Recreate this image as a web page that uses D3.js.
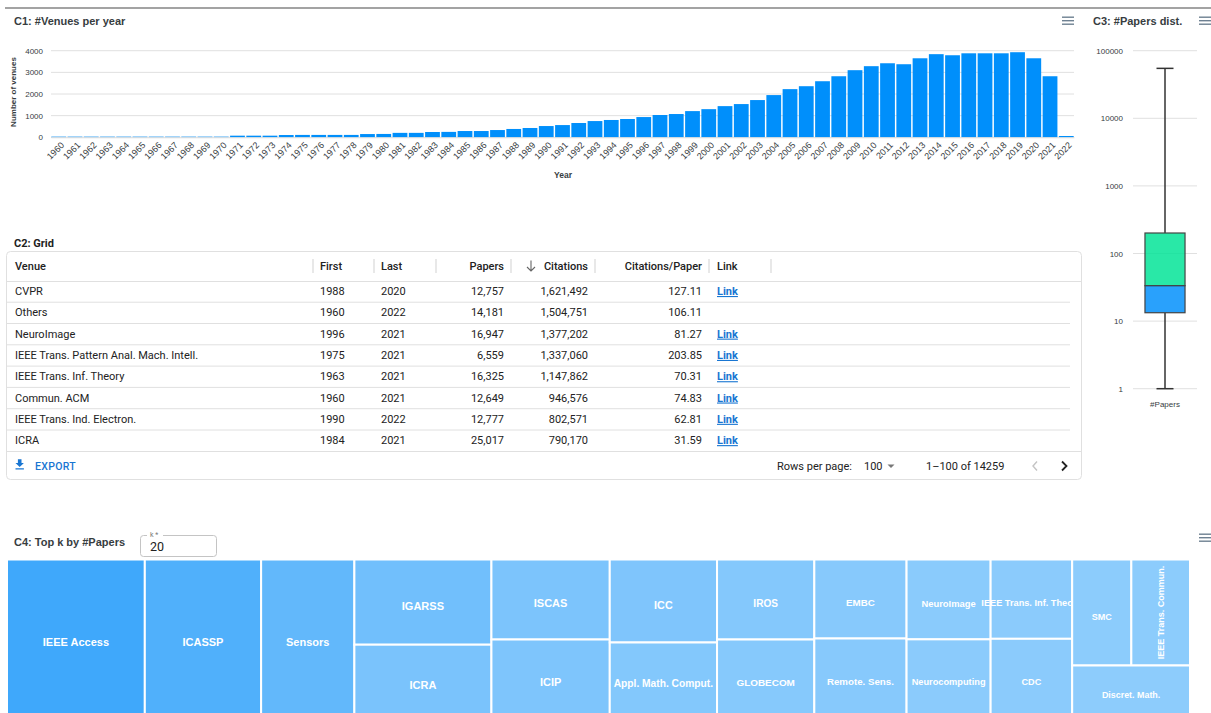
<!DOCTYPE html>
<html><head><meta charset="utf-8">
<script src="https://cdn.jsdelivr.net/npm/d3@7"></script>
<style>
html,body{margin:0;padding:0;background:#fff;overflow:hidden;}
svg{display:block;}
</style></head><body>
<svg id="c" width="1211" height="713"></svg>
<script>
// ---------- DATA ----------
const years = [1960,1961,1962,1963,1964,1965,1966,1967,1968,1969,1970,1971,1972,1973,1974,1975,1976,1977,1978,1979,1980,1981,1982,1983,1984,1985,1986,1987,1988,1989,1990,1991,1992,1993,1994,1995,1996,1997,1998,1999,2000,2001,2002,2003,2004,2005,2006,2007,2008,2009,2010,2011,2012,2013,2014,2015,2016,2017,2018,2019,2020,2021,2022];
const venuesPerYear = [30,30,30,30,30,30,30,30,30,30,30,75,75,75,105,110,110,110,110,150,155,205,205,245,250,290,290,335,385,430,520,565,660,750,800,845,935,1030,1075,1210,1300,1440,1535,1720,1950,2225,2360,2590,2820,3100,3285,3420,3375,3650,3840,3790,3880,3880,3880,3930,3650,2820,60];
const venueTicks = [0,1000,2000,3000,4000];

const boxLabel = "#Papers";
const boxMin = 1, boxQ1 = 13.3, boxMedian = 33.4, boxQ3 = 201, boxMax = 54800;
const logTicks = [1,10,100,1000,10000,100000];

const gridColumns = ["Venue","First","Last","Papers","Citations","Citations/Paper","Link"];
const gridVenues = ["CVPR","Others","NeuroImage","IEEE Trans. Pattern Anal. Mach. Intell.","IEEE Trans. Inf. Theory","Commun. ACM","IEEE Trans. Ind. Electron.","ICRA"];
const gridFirst = [1988,1960,1996,1975,1963,1960,1990,1984];
const gridLast = [2020,2022,2021,2021,2021,2021,2022,2021];
const gridPapers = [12757,14181,16947,6559,16325,12649,12777,25017];
const gridCitations = [1621492,1504751,1377202,1337060,1147862,946576,802571,790170];
const gridCpp = [127.11,106.11,81.27,203.85,70.31,74.83,62.81,31.59];
const gridHasLink = [true,false,true,true,true,true,true,true];
const totalRows = 14259, rowsPerPage = 100;

const topK = 20;
const topVenues = ["IEEE Access","ICASSP","Sensors","IGARSS","ICRA","ISCAS","ICIP","ICC","Appl. Math. Comput.","IROS","GLOBECOM","EMBC","Remote. Sens.","NeuroImage","Neurocomputing","IEEE Trans. Inf. Theory","CDC","SMC","IEEE Trans. Commun.","Discret. Math."];
const topPapers = [54800,46250,37080,29480,25017,23900,23150,22480,20180,19650,19030,18400,18280,16947,16480,16325,16100,15830,15700,15320];

// ---------- SETUP ----------
const svg = d3.select('#c');
const FONT = 'Liberation Sans, Arial, Helvetica, sans-serif';
const ROBOTO = 'Roboto, Arial, sans-serif';
const TXT = '#373d3f';
const BLUE = '#008FFB';

svg.append('rect').attr('x',5).attr('y',7).attr('width',1206).attr('height',2).attr('fill','#a3a3a3');

function title(x,y,t){
  svg.append('text').attr('x',x).attr('y',y).attr('font-family',FONT)
    .attr('font-weight','bold').attr('font-size',11).attr('fill',TXT).text(t);
}
function hamburger(x,y){
  for(let i=0;i<3;i++) svg.append('rect').attr('x',x).attr('y',y+i*3.5).attr('width',12).attr('height',1.4).attr('fill','#6e8192');
}
title(14,25,'C1: #Venues per year');
title(1093,25,'C3: #Papers dist.');
hamburger(1062,16.5); hamburger(1199,16.5); hamburger(1199,533.5);

// ---------- C1 BAR ----------
const xb = d3.scaleBand().domain(years).range([51,1074]).paddingInner(0.09).paddingOuter(0.02);
const yb = d3.scaleLinear().domain([0,4000]).range([137.3,50.7]);
const c1 = svg.append('g');
c1.selectAll('line.g').data(venueTicks).join('line')
  .attr('x1',51).attr('x2',1074).attr('y1',d=>yb(d)).attr('y2',d=>yb(d))
  .attr('stroke','#e0e0e0').attr('stroke-width',1);
const ya = c1.append('g').attr('transform','translate(51,0)')
  .call(d3.axisLeft(yb).tickValues(venueTicks).tickSize(0).tickPadding(8).tickFormat(d3.format('d')));
ya.select('.domain').remove();
ya.selectAll('text').attr('font-family',FONT).attr('font-size',8).attr('fill',TXT);
c1.selectAll('rect.bar').data(years).join('rect')
  .attr('x',d=>xb(d)).attr('width',xb.bandwidth())
  .attr('y',(d,i)=>yb(venuesPerYear[i])).attr('height',(d,i)=>yb(0)-yb(venuesPerYear[i]))
  .attr('fill',BLUE);
const xa = c1.append('g').attr('transform','translate(0,137.3)').call(d3.axisBottom(xb).tickSize(0));
xa.select('.domain').attr('stroke','#e0e0e0');
xa.selectAll('text').attr('font-family',FONT).attr('font-size',9).attr('fill',TXT)
  .attr('x',0).attr('y',0).attr('dy',0).attr('text-anchor','end')
  .attr('transform','translate(6,8.5) rotate(-45)');
c1.append('text').attr('x',563).attr('y',178).attr('text-anchor','middle')
  .attr('font-family',FONT).attr('font-weight','bold').attr('font-size',8.5).attr('fill',TXT).text('Year');
c1.append('text').attr('transform','translate(16,92) rotate(-90)').attr('text-anchor','middle')
  .attr('font-family',FONT).attr('font-weight','bold').attr('font-size',8).attr('fill',TXT).text('Number of venues');

// ---------- C3 BOX ----------
const yl = d3.scaleLog().domain([1,100000]).range([388.7,50.7]);
const c3 = svg.append('g');
c3.selectAll('line.g').data(logTicks).join('line')
  .attr('x1',1133).attr('x2',1197).attr('y1',d=>yl(d)).attr('y2',d=>yl(d)).attr('stroke','#e0e0e0');
const la = c3.append('g').attr('transform','translate(1131,0)')
  .call(d3.axisLeft(yl).tickValues(logTicks).tickSize(0).tickPadding(8).tickFormat(d3.format('d')));
la.select('.domain').remove();
la.selectAll('text').attr('font-family',FONT).attr('font-size',8).attr('fill',TXT);
const bx = d3.scaleBand().domain([boxLabel]).range([1133,1197]).padding(0.23);
const cx = bx(boxLabel)+bx.bandwidth()/2;
c3.append('line').attr('x1',cx).attr('x2',cx).attr('y1',yl(boxMax)).attr('y2',yl(boxQ3)).attr('stroke','#333').attr('stroke-width',1.5);
c3.append('line').attr('x1',cx).attr('x2',cx).attr('y1',yl(boxQ1)).attr('y2',yl(boxMin)).attr('stroke','#333').attr('stroke-width',1.5);
[boxMax,boxMin].forEach(v=>c3.append('line').attr('x1',cx-8.5).attr('x2',cx+8.5).attr('y1',yl(v)).attr('y2',yl(v)).attr('stroke','#333').attr('stroke-width',1.5));
c3.append('rect').attr('x',bx(boxLabel)).attr('width',bx.bandwidth()).attr('y',yl(boxQ3)).attr('height',yl(boxMedian)-yl(boxQ3))
  .attr('fill','#00E396').attr('fill-opacity',0.84).attr('stroke','#444').attr('stroke-width',1.2);
c3.append('rect').attr('x',bx(boxLabel)).attr('width',bx.bandwidth()).attr('y',yl(boxMedian)).attr('height',yl(boxQ1)-yl(boxMedian))
  .attr('fill',BLUE).attr('fill-opacity',0.84).attr('stroke','#444').attr('stroke-width',1.2);
c3.append('text').attr('x',cx).attr('y',407).attr('text-anchor','middle').attr('font-family',FONT).attr('font-size',8).attr('fill',TXT).text(boxLabel);

// ---------- C2 GRID ----------
const c2 = svg.append('g').attr('font-family',ROBOTO);
c2.append('text').attr('x',14).attr('y',247).attr('font-weight',700).attr('font-size',11).attr('fill','#222').text('C2: Grid');
c2.append('rect').attr('x',6.5).attr('y',251.5).attr('width',1075).attr('height',228).attr('rx',4)
  .attr('fill','none').attr('stroke','#e0e0e0');
c2.append('line').attr('x1',7).attr('x2',1081).attr('y1',281.5).attr('y2',281.5).attr('stroke','#e0e0e0');
const colX = [15,320,381,504,588,702,717];
const colAnchor = ['start','start','start','end','end','end','start'];
const sepX = [313,374,436,511,595,709,771];
gridColumns.forEach((c,i)=>{
  c2.append('text').attr('x',colX[i]).attr('y',270).attr('text-anchor',colAnchor[i])
    .attr('font-size',11).attr('font-weight',500).attr('fill','#222').text(c);
});
sepX.forEach(x=>c2.append('line').attr('x1',x).attr('x2',x).attr('y1',259).attr('y2',273).attr('stroke','#e0e0e0').attr('stroke-width',1.5));
c2.append('path').attr('d','M531,260.5 L531,271 M527,267 L531,271 L535,267').attr('fill','none').attr('stroke','#666').attr('stroke-width',1.1);
const rowH = 21.3, row0 = 291;
const fmt = d3.format(',');
gridVenues.forEach((v,i)=>{
  const yc = row0 + i*rowH + 4;
  const vals = [v, gridFirst[i], gridLast[i], fmt(gridPapers[i]), fmt(gridCitations[i]), gridCpp[i].toFixed(2)];
  vals.forEach((t,j)=>c2.append('text').attr('x',colX[j]).attr('y',yc).attr('text-anchor',colAnchor[j])
    .attr('font-size',11).attr('fill','#222').text(t));
  if (gridHasLink[i]) c2.append('text').attr('x',colX[6]).attr('y',yc).attr('font-size',11)
    .attr('font-weight',700).attr('fill','#1976d2').attr('text-decoration','underline').text('Link');
  if (i < gridVenues.length-1) c2.append('line').attr('x1',7).attr('x2',1070)
    .attr('y1',row0+i*rowH+11.2).attr('y2',row0+i*rowH+11.2).attr('stroke','#e0e0e0');
});
c2.append('line').attr('x1',7).attr('x2',1081).attr('y1',451.5).attr('y2',451.5).attr('stroke','#e0e0e0');
c2.append('path').attr('transform','translate(12.5,457.5) scale(0.6)').attr('d','M19 9h-4V3H9v6H5l7 7 7-7zM5 18v2h14v-2H5z').attr('fill','#1976d2');
c2.append('text').attr('x',35).attr('y',470).attr('font-size',10.5).attr('font-weight',500).attr('letter-spacing',0.3).attr('fill','#1976d2').text('EXPORT');
c2.append('text').attr('x',777).attr('y',470).attr('font-size',11).attr('fill','#222').text('Rows per page:');
c2.append('text').attr('x',864).attr('y',470).attr('font-size',11).attr('fill','#222').text(rowsPerPage);
c2.append('path').attr('d','M887.5,464.5 L894.5,464.5 L891,468 Z').attr('fill','#777');
c2.append('text').attr('x',926).attr('y',470).attr('font-size',11).attr('fill','#222').text(`1–${rowsPerPage} of ${totalRows}`);
c2.append('path').attr('d','M1037,461.5 L1033,466 L1037,470.5').attr('fill','none').attr('stroke','#c4c4c4').attr('stroke-width',1.4);
c2.append('path').attr('d','M1062,461.5 L1066.5,466 L1062,470.5').attr('fill','none').attr('stroke','#222').attr('stroke-width',1.8);

// ---------- C4 TREEMAP ----------
title(14,546,'C4: Top k by #Papers');
svg.append('rect').attr('x',140.5).attr('y',535.5).attr('width',76).attr('height',21).attr('rx',3).attr('fill','none').attr('stroke','#c4c4c4');
svg.append('rect').attr('x',147).attr('y',532).attr('width',16).attr('height',6).attr('fill','#fff');
svg.append('text').attr('x',150).attr('y',537).attr('font-family',ROBOTO).attr('font-size',7).attr('fill','#777').text('k *');
svg.append('text').attr('x',150).attr('y',551).attr('font-family',ROBOTO).attr('font-size',12.5).attr('fill','#222').text(topK);

const root = d3.hierarchy({children: topVenues.map((n,i)=>({name:n, value:topPapers[i]}))})
  .sum(d=>d.value||0).sort((a,b)=>b.value-a.value);
d3.treemap().size([1183,157.5]).tile(d3.treemapSquarify.ratio(1)).round(false)(root);
const shade = d3.scaleLinear().domain([d3.min(topPapers), d3.max(topPapers)]).range(['#8dccfc','#3fa8fb']);
const avgLen = d3.mean(topVenues, d=>d.length);
const tm = svg.append('g').attr('transform','translate(7,559.5)');
root.leaves().forEach((l,i)=>{
  const w = l.x1-l.x0, h = l.y1-l.y0;
  tm.append('rect').attr('x',l.x0).attr('y',l.y0).attr('width',w).attr('height',h)
    .attr('fill',shade(l.value)).attr('stroke','#fff').attr('stroke-width',2);
  const fs = Math.min(Math.sqrt(w*h)/avgLen*1.03, 11);
  const cxx = (l.x0+l.x1)/2, cyy = (l.y0+l.y1)/2;
  const t = tm.append('text').attr('x',cxx).attr('y',cyy+4).attr('dy','0.35em').attr('text-anchor','middle')
    .attr('font-family',FONT).attr('font-weight','bold').attr('font-size',fs).attr('fill','#fff').text(l.data.name);
  const len = t.node().getComputedTextLength();
  if (len > w-4 && h > w) t.attr('x',cxx).attr('y',cyy).attr('transform',`rotate(-90,${cxx},${cyy})`);
});
</script>
</body></html>
